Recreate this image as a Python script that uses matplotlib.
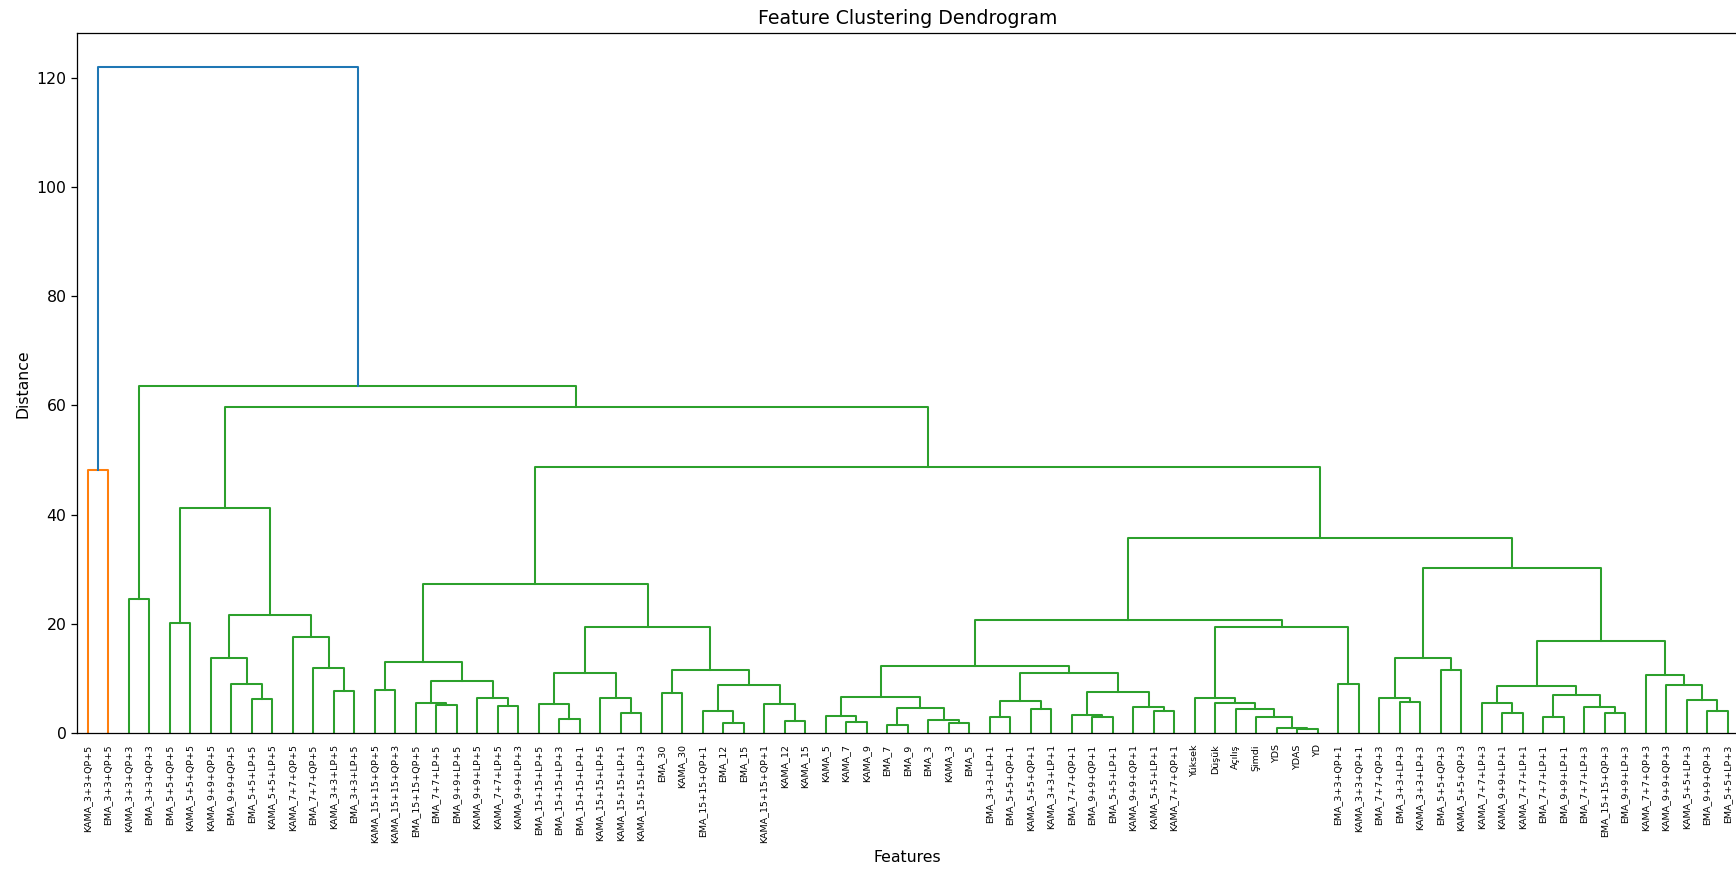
import matplotlib
matplotlib.use("Agg")
import matplotlib.pyplot as plt

# leaves in the order they appear along the x axis
leaf_labels = [
    'KAMA_3+3+QP+5', 'EMA_3+3+QP+5', 'KAMA_3+3+QP+3', 'EMA_3+3+QP+3',
    'EMA_5+5+QP+5', 'KAMA_5+5+QP+5', 'KAMA_9+9+QP+5', 'EMA_9+9+QP+5',
    'EMA_5+5+LP+5', 'KAMA_5+5+LP+5', 'KAMA_7+7+QP+5', 'EMA_7+7+QP+5',
    'KAMA_3+3+LP+5', 'EMA_3+3+LP+5', 'KAMA_15+15+QP+5', 'KAMA_15+15+QP+3',
    'EMA_15+15+QP+5', 'EMA_7+7+LP+5', 'EMA_9+9+LP+5', 'KAMA_9+9+LP+5',
    'KAMA_7+7+LP+5', 'KAMA_9+9+LP+3', 'EMA_15+15+LP+5', 'EMA_15+15+LP+3',
    'EMA_15+15+LP+1', 'KAMA_15+15+LP+5', 'KAMA_15+15+LP+1', 'KAMA_15+15+LP+3',
    'EMA_30', 'KAMA_30', 'EMA_15+15+QP+1', 'EMA_12', 'EMA_15',
    'KAMA_15+15+QP+1', 'KAMA_12', 'KAMA_15', 'KAMA_5', 'KAMA_7', 'KAMA_9',
    'EMA_7', 'EMA_9', 'EMA_3', 'KAMA_3', 'EMA_5', 'EMA_3+3+LP+1',
    'EMA_5+5+QP+1', 'KAMA_5+5+QP+1', 'KAMA_3+3+LP+1', 'EMA_7+7+QP+1',
    'EMA_9+9+QP+1', 'EMA_5+5+LP+1', 'KAMA_9+9+QP+1', 'KAMA_5+5+LP+1',
    'KAMA_7+7+QP+1', 'Yüksek', 'Düşük', 'Açılış', 'Şimdi', 'YDS', 'YDAS',
    'YD', 'EMA_3+3+QP+1', 'KAMA_3+3+QP+1', 'EMA_7+7+QP+3', 'EMA_3+3+LP+3',
    'KAMA_3+3+LP+3', 'EMA_5+5+QP+3', 'KAMA_5+5+QP+3', 'KAMA_7+7+LP+3',
    'KAMA_9+9+LP+1', 'KAMA_7+7+LP+1', 'EMA_7+7+LP+1', 'EMA_9+9+LP+1',
    'EMA_7+7+LP+3', 'EMA_15+15+QP+3', 'EMA_9+9+LP+3', 'KAMA_7+7+QP+3',
    'KAMA_9+9+QP+3', 'KAMA_5+5+LP+3', 'EMA_9+9+QP+3', 'EMA_5+5+LP+3',
]

# linkage rows (left, right, distance), scipy style:
# ids < 81 are leaves, id 81 + k is the cluster made in row k
linkage = [
    (0, 1, 48.1), (2, 3, 24.6), (4, 5, 20.2), (8, 9, 6.3), (7, 84, 9.0),
    (6, 85, 13.7), (12, 13, 7.7), (11, 87, 12.0), (10, 88, 17.6),
    (86, 89, 21.7), (83, 90, 41.2),
    (14, 15, 7.9), (17, 18, 5.1), (16, 93, 5.5), (20, 21, 5.0),
    (19, 95, 6.5), (94, 96, 9.6), (92, 97, 13.1),
    (23, 24, 2.7), (22, 99, 5.3), (26, 27, 3.7), (25, 101, 6.5),
    (100, 102, 11.0),
    (28, 29, 7.3), (31, 32, 1.8), (30, 105, 4.0), (34, 35, 2.3),
    (33, 107, 5.4), (106, 108, 8.8), (104, 109, 11.5), (103, 110, 19.4),
    (98, 111, 27.3),
    (37, 38, 2.1), (36, 113, 3.2), (39, 40, 1.5), (42, 43, 1.9),
    (41, 116, 2.4), (115, 117, 4.6), (114, 118, 6.7),
    (44, 45, 2.9), (46, 47, 4.4), (120, 121, 6.0), (49, 50, 2.9),
    (48, 123, 3.35), (52, 53, 4.0), (51, 125, 4.9), (124, 126, 7.5),
    (122, 127, 11.1), (119, 128, 12.3),
    (59, 60, 0.7), (58, 130, 1.0), (57, 131, 2.9), (56, 132, 4.45),
    (55, 133, 5.5), (54, 134, 6.5), (61, 62, 9.0), (135, 136, 19.4),
    (129, 137, 20.7),
    (64, 65, 5.8), (63, 139, 6.5), (66, 67, 11.5), (140, 141, 13.8),
    (69, 70, 3.8), (68, 143, 5.5), (71, 72, 2.9), (74, 75, 3.8),
    (73, 146, 4.9), (145, 147, 7.1), (144, 148, 8.7), (79, 80, 4.0),
    (78, 150, 6.1), (77, 151, 8.8), (76, 152, 10.7), (149, 153, 16.9),
    (142, 154, 30.3), (138, 155, 35.7), (112, 156, 48.7),
    (91, 157, 59.8), (82, 158, 63.5), (81, 159, 122.0),
]

n = len(leaf_labels)
xpos = {i: 5 + 10 * i for i in range(n)}
ypos = {i: 0.0 for i in range(n)}
children = {}
for k, (a, b, d) in enumerate(linkage):
    node = n + k
    children[node] = (a, b)
    xpos[node] = (xpos[a] + xpos[b]) / 2
    ypos[node] = d

max_d = max(d for _, _, d in linkage)
threshold = 0.7 * max_d
palette = ['C1', 'C2', 'C3', 'C4', 'C5', 'C6', 'C7', 'C8', 'C9']
node_color = {}
n_clusters = [0]


def paint(node, color=None):
    if node < n:
        return
    if color is None and ypos[node] < threshold:
        color = palette[n_clusters[0] % len(palette)]
        n_clusters[0] += 1
    node_color[node] = color if color else 'C0'
    for c in children[node]:
        paint(c, color)


paint(n + len(linkage) - 1)

dpi = 113.5
fig = plt.figure(figsize=(1736 / dpi, 870 / dpi), dpi=dpi)
ax = fig.add_axes([0.0446, 0.1571, 0.9565, 0.8047])

for node, (a, b) in children.items():
    ax.plot([xpos[a], xpos[a], xpos[b], xpos[b]],
            [ypos[a], ypos[node], ypos[node], ypos[b]],
            color=node_color[node], linewidth=1.3)

ax.set_xlim(0, 10 * n)
ax.set_ylim(0, max_d * 1.05)
ax.set_xticks([xpos[i] for i in range(n)])
ax.set_xticklabels(leaf_labels, rotation=90, fontsize=6)
for line in ax.get_xticklines():
    line.set_visible(False)

ax.set_title('Feature Clustering Dendrogram')
ax.set_xlabel('Features')
ax.set_ylabel('Distance')

fig.savefig('out.png', dpi=dpi)
